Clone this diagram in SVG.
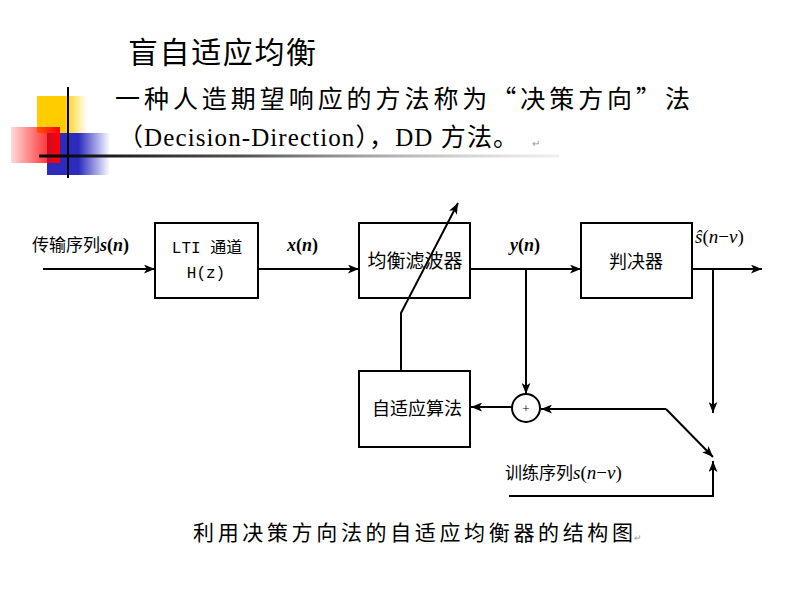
<svg xmlns="http://www.w3.org/2000/svg" width="800" height="600" viewBox="0 0 800 600">
<defs>
<marker id="ah" viewBox="0 0 10 8" refX="10" refY="4" markerWidth="11" markerHeight="9" markerUnits="userSpaceOnUse" orient="auto">
<path d="M0,0 L10,4 L0,8 L2.5,4 Z" fill="#000"/>
</marker>
<linearGradient id="gy" x1="0" x2="1" y1="0" y2="0"><stop offset="0" stop-color="#ffcc00"/><stop offset="0.55" stop-color="#ffcc00"/><stop offset="1" stop-color="#ffcc00" stop-opacity="0"/></linearGradient>
<linearGradient id="gr" x1="0" x2="1" y1="0" y2="0"><stop offset="0" stop-color="#ff0000" stop-opacity="0.15"/><stop offset="1" stop-color="#ff0000"/></linearGradient>
<linearGradient id="gb" x1="0" x2="1" y1="0" y2="0"><stop offset="0" stop-color="#2b2bc0"/><stop offset="0.5" stop-color="#2b2bc0"/><stop offset="1" stop-color="#2b2bc0" stop-opacity="0"/></linearGradient>
<linearGradient id="gl" x1="0" x2="1" y1="0" y2="0"><stop offset="0" stop-color="#000"/><stop offset="0.4" stop-color="#555"/><stop offset="1" stop-color="#ccc" stop-opacity="0.3"/></linearGradient>
<style>
.cn{font-family:"Noto Sans CJK SC",sans-serif;fill:#000}
.ser{font-family:"Liberation Serif","Noto Sans CJK SC",serif;fill:#000}
.mth{font-family:"Liberation Serif",serif;font-style:italic;font-weight:bold;fill:#000}
.mi{font-family:"Liberation Serif",serif;font-style:italic;fill:#000}
.mono{font-family:"Liberation Mono","Noto Sans CJK SC",monospace;fill:#000}
.box{fill:#fff;stroke:#000;stroke-width:2}
.ln{fill:none;stroke:#000;stroke-width:2}
.arr{fill:none;stroke:#000;stroke-width:2;marker-end:url(#ah)}
.ret{font-family:"Liberation Sans",sans-serif;fill:#999}
</style>
</defs>
<rect width="800" height="600" fill="#fff"/>
<g id="decoration">
<rect x="37" y="96" width="50" height="37" fill="url(#gy)"/>
<rect x="47" y="133" width="63" height="42" fill="url(#gb)"/>
<rect x="11" y="127" width="49" height="36" fill="url(#gr)"/>
<line x1="68" y1="87" x2="68" y2="178" stroke="#000" stroke-width="2"/>
<rect x="39" y="154.5" width="520" height="3" fill="url(#gl)"/>
</g>
<g id="header">
<text class="cn" x="128" y="63" font-size="30" textLength="188">盲自适应均衡</text>
<text class="cn" x="115" y="108" font-size="25" textLength="575">一种人造期望响应的方法称为“决策方向”法</text>
<text class="ser" x="118" y="146" font-size="25" textLength="400">（Decision-Direction），DD 方法。</text>
<text class="ret" x="532" y="147" font-size="10">↵</text>
</g>
<g id="connectors">
<line class="arr" x1="43" y1="269" x2="155" y2="269"/>
<line class="arr" x1="258" y1="269" x2="359" y2="269"/>
<line class="arr" x1="470" y1="269" x2="581" y2="269"/>
<line class="arr" x1="692" y1="269" x2="762" y2="269"/>
<line class="arr" x1="526" y1="269" x2="526" y2="394"/>
<line class="arr" x1="713" y1="269" x2="713" y2="413"/>
<line class="arr" x1="512" y1="407" x2="471" y2="407"/>
<line class="arr" x1="666" y1="409" x2="541" y2="409"/>
<line class="arr" x1="666" y1="409" x2="713" y2="457"/>
<polyline class="arr" points="509,496 713,496 713,461"/>
<polyline class="arr" points="401,371 401,313 458,203"/>
</g>
<g id="lti">
<rect class="box" x="155" y="223" width="103" height="75"/>
<text class="mono" x="207" y="253" font-size="16" text-anchor="middle">LTI 通道</text>
<text class="mono" x="206" y="278" font-size="16" text-anchor="middle">H(z)</text>
</g>
<g id="equalizer">
<rect class="box" x="359" y="223" width="111" height="75" fill-opacity="0"/>
<text class="cn" x="415" y="268" font-size="19" text-anchor="middle">均衡滤波器</text>
</g>
<g id="decider">
<rect class="box" x="581" y="223" width="111" height="75"/>
<text class="cn" x="636" y="268" font-size="18" text-anchor="middle">判决器</text>
</g>
<g id="algorithm">
<rect class="box" x="359" y="371" width="111" height="76"/>
<text class="cn" x="417" y="415" font-size="18" text-anchor="middle">自适应算法</text>
</g>
<g id="sum">
<circle class="box" cx="526" cy="408" r="14"/>
<text class="ser" x="526" y="413" font-size="13" text-anchor="middle">+</text>
</g>
<g id="labels">
<text x="32" y="251"><tspan class="cn" font-size="17">传输序列</tspan><tspan class="mth" font-size="18">s</tspan><tspan class="ser" font-size="18" font-weight="bold">(</tspan><tspan class="mth" font-size="18">n</tspan><tspan class="ser" font-size="18" font-weight="bold">)</tspan></text>
<text x="287" y="251"><tspan class="mth" font-size="18">x</tspan><tspan class="ser" font-size="18" font-weight="bold">(</tspan><tspan class="mth" font-size="18">n</tspan><tspan class="ser" font-size="18" font-weight="bold">)</tspan></text>
<text x="510" y="251"><tspan class="mth" font-size="18">y</tspan><tspan class="ser" font-size="18" font-weight="bold">(</tspan><tspan class="mth" font-size="18">n</tspan><tspan class="ser" font-size="18" font-weight="bold">)</tspan></text>
<text x="695" y="243"><tspan class="mi" font-size="19">ŝ</tspan><tspan class="ser" font-size="19">(</tspan><tspan class="mi" font-size="19">n</tspan><tspan class="ser" font-size="19">−</tspan><tspan class="mi" font-size="19">ν</tspan><tspan class="ser" font-size="19">)</tspan></text>
<text x="505" y="479"><tspan class="cn" font-size="17">训练序列</tspan><tspan class="mi" font-size="19">s</tspan><tspan class="ser" font-size="19">(</tspan><tspan class="mi" font-size="19">n</tspan><tspan class="ser" font-size="19">−</tspan><tspan class="mi" font-size="19">ν</tspan><tspan class="ser" font-size="19">)</tspan></text>
</g>
<g id="caption">
<text class="cn" x="193" y="540" font-size="21" textLength="440">利用决策方向法的自适应均衡器的结构图</text>
<text class="ret" x="634" y="541" font-size="9">↵</text>
</g>
</svg>
